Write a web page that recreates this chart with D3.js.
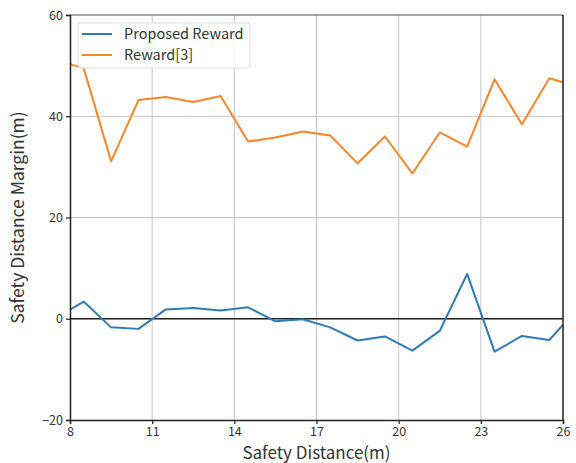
<!DOCTYPE html>
<html>
<head>
<meta charset="utf-8">
<script src="https://cdn.jsdelivr.net/npm/d3@7"></script>
<style>
  html, body { margin: 0; padding: 0; background: #fff; }
  svg { display: block; font-family: "Noto Sans CJK KR", "DejaVu Sans", sans-serif; }
</style>
</head>
<body>
<svg id="chart" width="576" height="463"></svg>
<script>
// Safety distance (m) sampled along the x axis
const distances = [8, 8.5, 9.5, 10.5, 11.5, 12.5, 13.5, 14.5, 15.5, 16.5, 17.5, 18.5, 19.5, 20.5, 21.5, 22.5, 23.5, 24.5, 25.5, 26];
// Safety distance margin for each reward design
const proposedReward = [1.8, 3.4, -1.7, -2.0, 1.85, 2.1, 1.65, 2.25, -0.5, -0.1, -1.7, -4.3, -3.5, -6.3, -2.4, 8.85, -6.5, -3.4, -4.2, -1.2];
const baselineReward = [50.3, 49.5, 31.1, 43.2, 43.8, 42.8, 44.0, 35.0, 35.8, 37.0, 36.2, 30.7, 36.0, 28.7, 36.8, 34.0, 47.3, 38.4, 47.5, 46.7];
const seriesNames = ["Proposed Reward", "Reward[3]"];
const seriesColors = ["#2f7bb5", "#f5862a"];
const xTicks = [8, 11, 14, 17, 20, 23, 26];
const yTicks = [-20, 0, 20, 40, 60];

const svg = d3.select("#chart");
const m = { left: 70, right: 13, top: 15, bottom: 43 };
const W = 576, H = 463;

const x = d3.scaleLinear().domain([8, 26]).range([m.left, W - m.right]);
const y = d3.scaleLinear().domain([-20, 60]).range([H - m.bottom, m.top]);

// grid
const grid = svg.append("g");
grid.selectAll("line.gx").data(xTicks.slice(1, -1)).join("line")
  .attr("x1", d => x(d)).attr("x2", d => x(d))
  .attr("y1", y(60)).attr("y2", y(-20))
  .attr("stroke", "#c4c4c4").attr("stroke-width", 1);
grid.selectAll("line.gy").data(yTicks.slice(1, -1)).join("line")
  .attr("x1", x(8)).attr("x2", x(26))
  .attr("y1", d => y(d)).attr("y2", d => y(d))
  .attr("stroke", "#c4c4c4").attr("stroke-width", 1);

// zero reference line
svg.append("line")
  .attr("x1", x(8)).attr("x2", x(26))
  .attr("y1", y(0)).attr("y2", y(0))
  .attr("stroke", "#222").attr("stroke-width", 1.5);

// series
const line = d3.line().x((d, i) => x(distances[i])).y(d => y(d));
[proposedReward, baselineReward].forEach((vals, k) => {
  svg.append("path").datum(vals)
    .attr("d", line)
    .attr("fill", "none")
    .attr("stroke", seriesColors[k])
    .attr("stroke-width", 2)
    .attr("stroke-linejoin", "round");
});

// frame
svg.append("line").attr("x1", x(8)).attr("x2", x(26)).attr("y1", y(60)).attr("y2", y(60))
  .attr("stroke", "#888").attr("stroke-width", 1.5);
svg.append("line").attr("x1", x(26)).attr("x2", x(26)).attr("y1", y(60)).attr("y2", y(-20))
  .attr("stroke", "#222").attr("stroke-width", 1.5);

// axes
const xAxis = svg.append("g").attr("transform", `translate(0,${y(-20)})`)
  .call(d3.axisBottom(x).tickValues(xTicks).tickSize(4).tickPadding(3).tickFormat(d3.format("d")));
const yAxis = svg.append("g").attr("transform", `translate(${x(8)},0)`)
  .call(d3.axisLeft(y).tickValues(yTicks).tickSize(4).tickPadding(3).tickFormat(d => d < 0 ? "\u2212" + Math.abs(d) : d));
[xAxis, yAxis].forEach(a => {
  a.select(".domain").attr("stroke", "#222").attr("stroke-width", 1.5);
  a.selectAll(".tick line").attr("stroke", "#222").attr("stroke-width", 1.2);
  a.selectAll(".tick text").attr("fill", "#333").style("font-size", "12.5px")
    .style("font-family", "'Noto Sans CJK KR', 'DejaVu Sans', sans-serif");
});

// axis titles
svg.append("text")
  .attr("x", (x(8) + x(26)) / 2).attr("y", 458.5)
  .attr("text-anchor", "middle").attr("fill", "#333")
  .style("font-size", "17px").text("Safety Distance(m)");
svg.append("text")
  .attr("transform", `translate(24,${(y(60) + y(-20)) / 2}) rotate(-90)`)
  .attr("text-anchor", "middle").attr("fill", "#333")
  .style("font-size", "17.5px").text("Safety Distance Margin(m)");

// legend
const lg = svg.append("g").attr("transform", "translate(78,23)");
lg.append("rect").attr("width", 172).attr("height", 45).attr("rx", 3)
  .attr("fill", "#fff").attr("fill-opacity", 0.85)
  .attr("stroke", "#ddd").attr("stroke-width", 1);
seriesNames.forEach((name, k) => {
  const yy = 11 + k * 21;
  lg.append("line").attr("x1", 4).attr("x2", 34).attr("y1", yy).attr("y2", yy)
    .attr("stroke", seriesColors[k]).attr("stroke-width", 2);
  lg.append("text").attr("x", 46).attr("y", yy + 5)
    .attr("fill", "#333").style("font-size", "14.5px").text(name);
});
</script>
</body>
</html>
